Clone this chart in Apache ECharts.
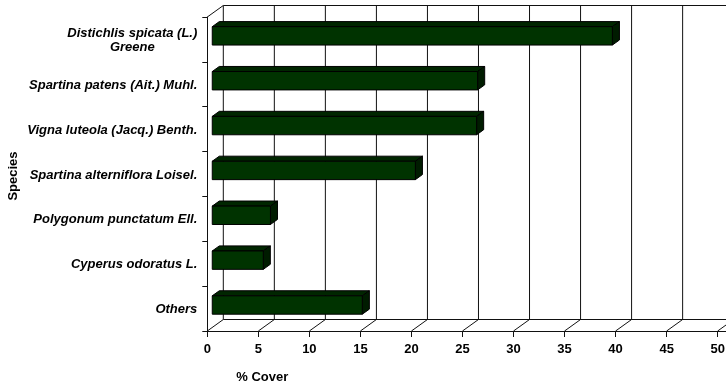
<!DOCTYPE html>
<html>
<head>
<meta charset="utf-8">
<script src="https://cdn.jsdelivr.net/npm/echarts@6/dist/echarts.min.js"></script>
<style>
  html, body { margin: 0; padding: 0; background: #fff; }
  #chart { width: 726px; height: 389px; }
</style>
</head>
<body>
<div id="chart"></div>
<script>
// Species (top to bottom) and their percent cover
const species = [
  'Distichlis spicata (L.)\nGreene',
  'Spartina patens (Ait.) Muhl.',
  'Vigna luteola (Jacq.) Benth.',
  'Spartina alterniflora Loisel.',
  'Polygonum punctatum Ell.',
  'Cyperus odoratus L.',
  'Others'
];
const cover = [39.2, 26.0, 25.9, 19.9, 5.7, 5.0, 14.7];
const coverTicks = [0, 5, 10, 15, 20, 25, 30, 35, 40, 45, 50];

// Pseudo-3D depth of the plot box and placement of the bars inside it
const DEPTH_X = 16, DEPTH_Y = -11.5;
const BAR_FRONT = 0.31, BAR_BACK = 0.75, BAR_SIZE = 0.41;
const FONT = '"Liberation Sans", Arial, sans-serif';
const LINE = '#111';

const chart = echarts.init(document.getElementById('chart'), null, { renderer: 'canvas' });

function line(x1, y1, x2, y2, w) {
  return { type: 'line', shape: { x1, y1, x2, y2 }, style: { stroke: LINE, lineWidth: w || 1 } };
}

// Back wall gridlines, floor diagonals and box edges
function renderWalls(params, api) {
  const cs = params.coordSys;
  const top = cs.y, bottom = cs.y + cs.height;
  const x = api.coord([api.value(0), 0])[0];
  const children = [
    line(x + DEPTH_X, top + DEPTH_Y, x + DEPTH_X, bottom + DEPTH_Y),
    line(x, bottom, x + DEPTH_X, bottom + DEPTH_Y)
  ];
  if (params.dataIndex === 0) {
    const xEnd = cs.x + cs.width;
    children.push(
      line(x, top, x + DEPTH_X, top + DEPTH_Y),
      line(x + DEPTH_X, top + DEPTH_Y, xEnd + DEPTH_X, top + DEPTH_Y),
      line(x + DEPTH_X, bottom + DEPTH_Y, xEnd + DEPTH_X, bottom + DEPTH_Y)
    );
  }
  return { type: 'group', children };
}

// Box-shaped bars: front face, top face and right end face
function renderBar(params, api) {
  const v = api.value(0), c = api.value(1);
  const p0 = api.coord([0, c]), p1 = api.coord([v, c]);
  const band = api.size([0, 1])[1];
  const h = band * BAR_SIZE;
  const fx = DEPTH_X * BAR_FRONT, fy = DEPTH_Y * BAR_FRONT;
  const ddx = DEPTH_X * (BAR_BACK - BAR_FRONT), ddy = DEPTH_Y * (BAR_BACK - BAR_FRONT);
  const xL = p0[0] + fx, xR = p1[0] + fx;
  const yT = p0[1] + fy - h / 2, yB = yT + h;
  const edge = { stroke: '#000', lineWidth: 1, lineJoin: 'round' };
  return {
    type: 'group',
    children: [
      { type: 'polygon', shape: { points: [[xL, yT], [xR, yT], [xR + ddx, yT + ddy], [xL + ddx, yT + ddy]] },
        style: Object.assign({ fill: '#002600' }, edge) },
      { type: 'polygon', shape: { points: [[xR, yT], [xR + ddx, yT + ddy], [xR + ddx, yB + ddy], [xR, yB]] },
        style: Object.assign({ fill: '#001c00' }, edge) },
      { type: 'rect', shape: { x: xL, y: yT, width: xR - xL, height: h },
        style: Object.assign({ fill: '#003300' }, edge) }
    ]
  };
}

chart.setOption({
  animation: false,
  backgroundColor: '#fff',
  grid: { left: 207.3, top: 17, width: 561.4, height: 314, outerBoundsMode: 'none', containLabel: false },
  xAxis: {
    type: 'value',
    min: 0, max: 55, interval: 5,
    axisLine: { show: true, lineStyle: { color: LINE, width: 1 } },
    axisTick: { show: true, length: 6, lineStyle: { color: LINE } },
    splitLine: { show: false },
    axisLabel: { margin: 12, color: '#000', fontFamily: FONT, fontWeight: 'bold', fontSize: 13 }
  },
  yAxis: {
    type: 'category',
    inverse: true,
    data: species,
    axisLine: { show: true, lineStyle: { color: LINE, width: 1 } },
    axisTick: { show: true, length: 5, interval: 0, lineStyle: { color: LINE } },
    splitLine: { show: false },
    axisLabel: {
      interval: 0,
      margin: 10,
      padding: [2, 0, 0, 0],
      color: '#000',
      fontFamily: FONT, fontWeight: 'bold', fontStyle: 'italic', fontSize: 13,
      formatter: (s) => s.split('\n').map(t => '{c|' + t + '}').join('\n'),
      rich: { c: { align: 'center', fontFamily: FONT, fontWeight: 'bold', fontStyle: 'italic', fontSize: 13, color: '#000', lineHeight: 14 } }
    }
  },
  graphic: [
    { type: 'text', x: 13, y: 176, rotation: Math.PI / 2,
      style: { text: 'Species', font: 'bold 13px ' + FONT, fill: '#000', textAlign: 'center', textVerticalAlign: 'middle' } },
    { type: 'text', x: 262.3, y: 377,
      style: { text: '% Cover', font: 'bold 13px ' + FONT, fill: '#000', textAlign: 'center', textVerticalAlign: 'middle' } }
  ],
  series: [
    {
      type: 'custom',
      name: 'walls',
      clip: false,
      silent: true,
      z: 1,
      renderItem: renderWalls,
      encode: { x: 0, y: 1 },
      data: coverTicks.map(t => [t, 0])
    },
    {
      type: 'custom',
      name: '% Cover',
      clip: false,
      z: 3,
      renderItem: renderBar,
      encode: { x: 0, y: 1 },
      data: cover.map((v, i) => [v, i])
    }
  ]
});
</script>
</body>
</html>
